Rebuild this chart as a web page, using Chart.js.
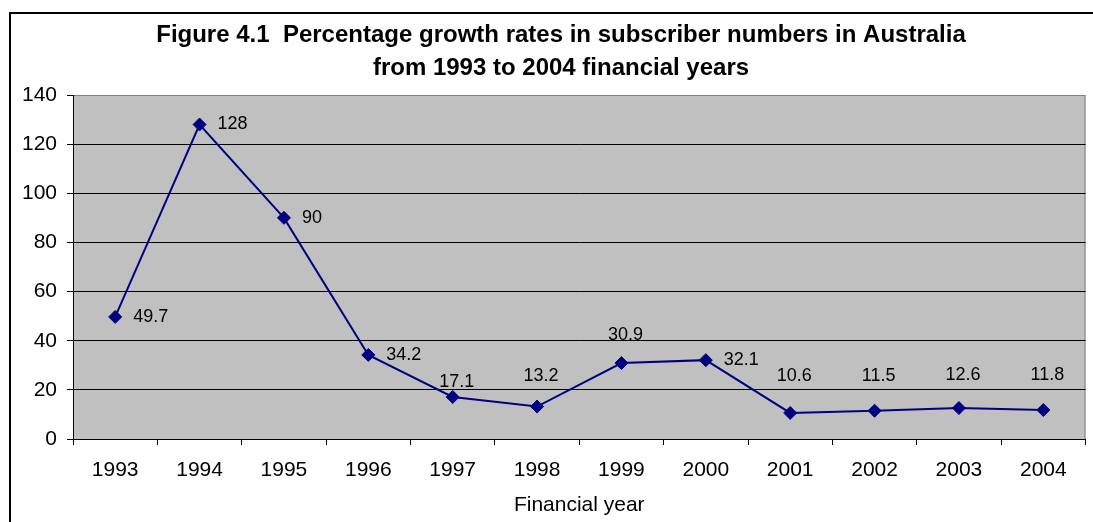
<!DOCTYPE html>
<html>
<head>
<meta charset="utf-8">
<script src="https://cdn.jsdelivr.net/npm/chart.js@4/dist/chart.umd.min.js"></script>
<style>
  html, body { margin: 0; padding: 0; background: #fff; }
  canvas { display: block; }
</style>
</head>
<body>
<canvas id="myChart" width="1093" height="522"></canvas>
<script>
const years = ['1993', '1994', '1995', '1996', '1997', '1998', '1999', '2000', '2001', '2002', '2003', '2004'];
const growth = [49.7, 128, 90, 34.2, 17.1, 13.2, 30.9, 32.1, 10.6, 11.5, 12.6, 11.8];
const yTicks = [0, 20, 40, 60, 80, 100, 120, 140];

const titleLines = [
    'Figure 4.1  Percentage growth rates in subscriber numbers in Australia',
    'from 1993 to 2004 financial years'
];

// where each value label sits: r = right of the point, a = above it
const labelSide = ['r', 'r', 'r', 'r', 'a', 'a', 'a', 'r', 'a', 'a', 'a', 'a'];
const labelLift = [0, 0, 0, 0, 15, 31, 28, 0, 37, 35, 33, 35];

const FONT = '"Liberation Sans", Arial, sans-serif';

const frameAndBack = {
    id: 'frameAndBack',
    beforeDraw(chart) {
        const { ctx, chartArea: { left, top, right, bottom } } = chart;
        ctx.save();
        // outer frame (top and left are visible)
        ctx.strokeStyle = '#000';
        ctx.lineWidth = 2;
        ctx.beginPath();
        ctx.moveTo(10, chart.height + 2);
        ctx.lineTo(10, 13);
        ctx.lineTo(chart.width + 2, 13);
        ctx.stroke();
        // plot area
        ctx.fillStyle = '#c0c0c0';
        ctx.fillRect(left, top, right - left, bottom - top);
        ctx.strokeStyle = '#808080';
        ctx.lineWidth = 1;
        ctx.beginPath();
        ctx.moveTo(left, top + 0.5);
        ctx.lineTo(right - 0.5, top + 0.5);
        ctx.lineTo(right - 0.5, bottom);
        ctx.stroke();
        // title
        ctx.fillStyle = '#000';
        ctx.font = 'bold 24px ' + FONT;
        ctx.textAlign = 'center';
        ctx.textBaseline = 'middle';
        ctx.fillText(titleLines[0], 561, 35);
        ctx.fillText(titleLines[1], 561, 68);
        ctx.restore();
    }
};

const valueLabels = {
    id: 'valueLabels',
    afterDatasetsDraw(chart) {
        const { ctx } = chart;
        const meta = chart.getDatasetMeta(0);
        ctx.save();
        ctx.fillStyle = '#000';
        ctx.font = '18px ' + FONT;
        ctx.textBaseline = 'middle';
        meta.data.forEach((pt, i) => {
            const txt = String(growth[i]);
            if (labelSide[i] === 'r') {
                ctx.textAlign = 'left';
                ctx.fillText(txt, pt.x + 18, pt.y);
            } else {
                ctx.textAlign = 'center';
                ctx.fillText(txt, pt.x + 4, pt.y - labelLift[i]);
            }
        });
        ctx.restore();
    }
};

new Chart(document.getElementById('myChart'), {
    type: 'line',
    data: {
        labels: years,
        datasets: [{
            label: 'Growth',
            data: growth,
            borderColor: '#000080',
            borderWidth: 2,
            backgroundColor: '#000080',
            pointStyle: 'rectRot',
            pointRadius: 6.5,
            pointBorderWidth: 1,
            pointBackgroundColor: '#000080',
            pointBorderColor: '#000080',
            tension: 0,
            fill: false
        }]
    },
    options: {
        responsive: false,
        animation: false,
        devicePixelRatio: 1,
        layout: {
            padding: { top: 95, left: 0, right: 2, bottom: 0 }
        },
        plugins: {
            legend: { display: false },
            title: { display: false },
            tooltip: { enabled: false }
        },
        scales: {
            x: {
                offset: true,
                afterFit: (scale) => { scale.height = 83; },
                border: { color: '#000', width: 1 },
                grid: {
                    offset: true,
                    drawOnChartArea: false,
                    color: '#000',
                    tickLength: 6
                },
                ticks: {
                    color: '#000',
                    padding: 13,
                    maxRotation: 0,
                    font: { family: FONT, size: 21 }
                },
                title: {
                    display: true,
                    text: 'Financial year',
                    color: '#000',
                    padding: { top: 0, bottom: 4 },
                    font: { family: FONT, size: 21 }
                }
            },
            y: {
                min: 0,
                max: 140,
                afterFit: (scale) => { scale.width = 73; },
                afterBuildTicks: (scale) => { scale.ticks = yTicks.map(v => ({ value: v })); },
                border: { color: '#000', width: 1 },
                grid: {
                    color: (c) => (c.tick && c.tick.value === 140 ? '#808080' : '#000'),
                    tickColor: '#000',
                    lineWidth: 1,
                    tickLength: 6
                },
                ticks: {
                    color: '#000',
                    padding: 10,
                    font: { family: FONT, size: 21 }
                }
            }
        }
    },
    plugins: [frameAndBack, valueLabels]
});
</script>
</body>
</html>
